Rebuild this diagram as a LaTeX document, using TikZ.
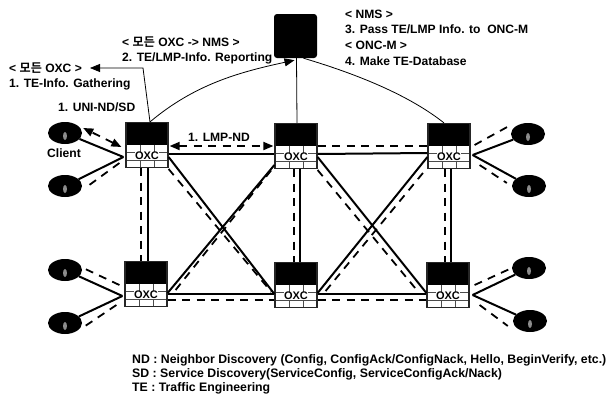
\documentclass[tikz,border=0pt]{standalone}
\usepackage{fontspec}
\setmainfont{Liberation Sans}
\newfontfamily\krfont{Noto Sans CJK KR}[BoldFont={Noto Sans CJK KR Bold}]
\usetikzlibrary{shapes.geometric,arrows.meta}
\tikzset{
  oxc/.style={rectangle,draw=black!85,line width=1.2pt,fill=white,minimum width=42pt,minimum height=45pt,inner sep=0pt,
    path picture={
      \fill[black] (path picture bounding box.north west) rectangle ([yshift=23pt]path picture bounding box.south east);
      \draw[black!70,line width=1pt]
        ([yshift=15pt]path picture bounding box.south west) -- ([yshift=15pt]path picture bounding box.south east)
        ([yshift=7pt]path picture bounding box.south west) -- ([yshift=7pt]path picture bounding box.south east)
        ([xshift=14pt,yshift=23pt]path picture bounding box.south west) -- ([xshift=14pt]path picture bounding box.south west)
        ([xshift=28pt,yshift=23pt]path picture bounding box.south west) -- ([xshift=28pt]path picture bounding box.south west);
    }},
  oxclabel/.style={fill=white,inner sep=.4pt,font=\bfseries\fontsize{11}{11}\selectfont},
  nms/.style={rectangle,rounded corners=3pt,fill=black,minimum width=43pt,minimum height=44pt,inner sep=0pt},
  client/.style={ellipse,fill=black,minimum width=34pt,minimum height=22pt,inner sep=0pt,
    path picture={\fill[black!45] ([yshift=-3pt]path picture bounding box.center) ellipse (2pt and 4pt);}},
  sol/.style={line width=2pt},
  dsh/.style={line width=1.8pt,dash pattern=on 8pt off 6.5pt},
  thin line/.style={line width=.8pt},
  tip/.style={-{Triangle[length=10pt,width=8pt]}},
  both tip/.style={{Triangle[length=10pt,width=8pt]}-{Triangle[length=10pt,width=8pt]}},
  lbl/.style={anchor=west,inner sep=0pt,font=\bfseries\fontsize{12.1}{14}\selectfont},
  lgd/.style={anchor=west,inner sep=0pt,font=\bfseries\fontsize{12.3}{14}\selectfont},
}
\newcommand{\oxcbox}[3]{\node[oxc] (#1) at (#2,#3) {}; \node[oxclabel] (#1l) at ([yshift=-11pt]#1) {OXC};}
\newcommand{\kr}{{\krfont\bfseries 모든}}
\begin{document}
\begin{tikzpicture}[x=1pt,y=-1pt]
\useasboundingbox (0,0) rectangle (608,394);
\fill[white] (0,0) rectangle (608,394);

% clients
\node[client] (c1) at (65,133) {};
\node[client] (c2) at (65,186) {};
\node[client] (c3) at (65,270) {};
\node[client] (c4) at (65,323) {};
\node[client] (c5) at (528,134) {};
\node[client] (c6) at (529,186) {};
\node[client] (c7) at (529,268) {};
\node[client] (c8) at (530,321) {};

% boxes (centres)
\node[nms] (nms) at (295.5,36) {};
\oxcbox{tl}{147}{145}
\oxcbox{tm}{296}{146}
\oxcbox{tr}{449}{146}
\oxcbox{bl}{146}{284}
\oxcbox{bm}{296}{285}
\oxcbox{br}{448}{285}

% horizontal links
\draw[sol] ([yshift=-9pt]tl.east) -- ([yshift=-8pt]tm.west);
\draw[sol] ([yshift=-8pt]tm.east) -- ([yshift=-7pt]tr.west);
\draw[sol] ([yshift=-10pt]bl.east) -- ([yshift=-9pt]bm.west);
\draw[sol] ([yshift=-9pt]bm.east) -- ([yshift=-9pt]br.west);
\draw[dsh,both tip] ([xshift=1pt,yshift=-1pt]tl.east) -- ([xshift=-1pt]tm.west);
\draw[dsh] ([yshift=0pt]tm.east) -- (tr.west);
\draw[dsh] ([yshift=-16pt]bl.east) -- ([yshift=-15pt]bm.west);
\draw[dsh] ([yshift=-15pt]bm.east) -- ([yshift=-15pt]br.west);

% vertical links
\draw[sol] ([xshift=1pt]tl.south) -- ([xshift=2pt]bl.north);
\draw[sol] ([xshift=4pt]tm.south) -- ([xshift=4pt]bm.north);
\draw[sol] ([xshift=2pt]tr.south) -- ([xshift=3pt]br.north);
\draw[dsh] ([xshift=-6pt]tl.south) -- ([xshift=-5pt]bl.north);
\draw[dsh] ([xshift=-2pt]tm.south) -- ([xshift=-2pt]bm.north);
\draw[dsh] ([xshift=-4pt]tr.south) -- ([xshift=-3pt]br.north);

% diagonals
\draw[sol] ([yshift=-12pt]tl.east) -- ([yshift=-9pt]bm.west);
\draw[sol] ([yshift=-9pt]bl.east) -- ([yshift=-19pt]tm.west);
\draw[sol] ([yshift=-11pt]tm.east) -- ([yshift=-8pt]br.west);
\draw[sol] ([yshift=-8pt]bm.east) -- ([yshift=-11pt]tr.west);
\draw[dsh] ([yshift=-24pt]tl.east) -- ([xshift=-3pt,yshift=-7pt]bm.west);
\draw[dsh] ([xshift=8pt,yshift=-6pt]bl.east) -- ([xshift=-3pt,yshift=-24pt]tm.west);
\draw[dsh] ([xshift=0pt,yshift=-24pt]tm.east) -- ([xshift=-8pt,yshift=-7pt]br.west);
\draw[dsh] ([xshift=8pt,yshift=-6pt]bm.east) -- ([xshift=-2pt,yshift=-24pt]tr.west);

% client links
\draw[sol] ([xshift=-2pt,yshift=-12pt]tl.west) -- (c1);
\draw[sol] ([xshift=-2pt,yshift=-12pt]tl.west) -- (c2);
\draw[sol] ([xshift=-2pt,yshift=-12pt]bl.west) -- (c3);
\draw[sol] ([xshift=-2pt,yshift=-12pt]bl.west) -- (c4);
\draw[sol] ([xshift=2pt,yshift=-9pt]tr.east) -- (c5);
\draw[sol] ([xshift=2pt,yshift=-9pt]tr.east) -- (c6);
\draw[sol] ([xshift=3pt,yshift=-10pt]br.east) -- (c7);
\draw[sol] ([xshift=3pt,yshift=-10pt]br.east) -- (c8);
\draw[dsh,both tip] ([xshift=-4pt,yshift=-2pt]tl.west) -- ([xshift=1pt,yshift=5pt]c1.east);
\draw[dsh] ([xshift=-6pt,yshift=-18pt]tl.west) -- ([xshift=3pt,yshift=-2pt]c2.east);
\draw[dsh] ([xshift=-5pt,yshift=-1pt]bl.west) -- ([xshift=1pt,yshift=2pt]c3.east);
\draw[dsh] ([xshift=-8pt,yshift=-21pt]bl.west) -- ([xshift=3pt,yshift=-3pt]c4.east);
\draw[dsh] ([xshift=4pt,yshift=1pt]tr.east) -- ([yshift=9pt]c5.west);
\draw[dsh] ([xshift=9pt,yshift=-19pt]tr.east) -- ([xshift=-5pt,yshift=3pt]c6.west);
\draw[dsh] ([xshift=5pt]br.east) -- (c7.west);
\draw[dsh] ([xshift=10pt,yshift=-20pt]br.east) -- ([xshift=-5pt,yshift=-5pt]c8.west);

% management curves
\coordinate (gather) at (90,68);
\coordinate (bend) at (143,68);
\draw[thin line,tip] ([xshift=3pt]tl.north) -- (bend) -- (gather);
\draw[thin line,tip] ([xshift=3pt]tl.north) .. controls (195,84) and (240,72) .. ([xshift=-1pt,yshift=-2pt]nms.south);
\draw[thin line] ([xshift=1pt]nms.south) -- ([xshift=1pt]tm.north);
\draw[thin line] ([xshift=8pt]nms.south) .. controls (360,75) and (410,96) .. ([xshift=-5pt]tr.north);

% labels
\node[lbl] (t1) at (122,42) {< \kr{} OXC -> NMS >};
\node[lbl] (t2) at (122,58) {2. TE/LMP-Info. Reporting};
\node[lbl] (t3) at (9,68) {< \kr{} OXC >};
\node[lbl] (t4) at (9,84) {1. TE-Info. Gathering};
\node[lbl] (t5) at (58,107) {1. UNI-ND/SD};
\node[lbl] (t6) at (47,153) {Client};
\node[lbl] (t7) at (188,137) {1. LMP-ND};
\node[lbl] (t8) at (345,14) {< NMS >};
\node[lbl] (t9) at (345,29) {3. Pass TE/LMP Info. to\ \ ONC-M};
\node[lbl] (t10) at (345,45) {< ONC-M >};
\node[lbl] (t11) at (345,61) {4. Make TE-Database};
\node[lgd] (l1) at (132,360) {ND : Neighbor Discovery (Config, ConfigAck/ConfigNack, Hello, BeginVerify, etc.)};
\node[lgd] (l2) at (132,374) {SD : Service Discovery(ServiceConfig, ServiceConfigAck/Nack)};
\node[lgd] (l3) at (132,388) {TE : Traffic Engineering};
\end{tikzpicture}
\end{document}
